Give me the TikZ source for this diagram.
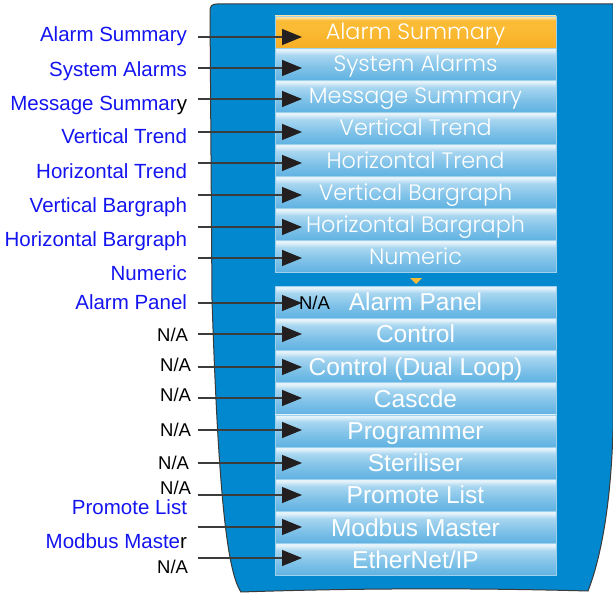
\documentclass[tikz,border=0pt]{standalone}
\usepackage{fontspec}
\setmainfont{Liberation Sans}
\IfFontExistsTF{Poppins Light}{\newfontfamily\screenfont{Poppins Light}}{\newfontfamily\screenfont{Poppins}}
\usetikzlibrary{arrows.meta}

\definecolor{panelblue}{HTML}{0288CE}
\definecolor{panelline}{HTML}{3A3A3A}
\definecolor{rowtop}{HTML}{E4F2FA}
\definecolor{rowlight}{HTML}{A8D6F0}
\definecolor{rowdark}{HTML}{5FB2E2}
\definecolor{rowline}{HTML}{9ED1EE}
\definecolor{alarmtop}{HTML}{FDE2A2}
\definecolor{alarmmid}{HTML}{FBBB35}
\definecolor{alarmdark}{HTML}{F7AE24}
\definecolor{labelblue}{HTML}{1414F0}
\definecolor{leadgray}{HTML}{3C3C3C}
\definecolor{tipblack}{HTML}{231F20}

% row gradients (box maps onto 25bp..75bp)
\pgfdeclareverticalshading{menurow}{100bp}{
    color(0bp)=(rowdark); color(25bp)=(rowdark); color(45bp)=(rowdark!55!rowlight);
    color(64bp)=(rowlight); color(72bp)=(rowtop); color(100bp)=(rowtop)}
\pgfdeclareverticalshading{alarmrow}{100bp}{
    color(0bp)=(alarmdark); color(25bp)=(alarmdark); color(55bp)=(alarmmid);
    color(68bp)=(alarmmid); color(73bp)=(alarmtop); color(100bp)=(alarmtop)}

\tikzset{
    menu row/.style={
        anchor=north west,
        minimum width=281pt,
        minimum height=32pt,
        inner sep=0,
        outer sep=0,
        text=white,
        draw=rowline,
        line width=0.5pt,
        shading=menurow,
    },
    upper row/.style={
        menu row,
        text height=17pt,
        text depth=1.8pt,
        font=\screenfont\fontsize{22.3}{25}\selectfont,
    },
    lower row/.style={
        menu row,
        text height=18.5pt,
        text depth=1pt,
        font=\fontsize{24.5}{28}\selectfont,
    },
    side label/.style={
        anchor=mid east,
        inner sep=0,
        outer sep=0,
        text=labelblue,
        font=\fontsize{20.5}{24}\selectfont,
    },
    na label/.style={
        side label,
        text=black,
        font=\fontsize{18.5}{22}\selectfont,
    },
    pointer/.style={
        draw=leadgray,
        line width=1.2pt,
        -{Triangle[length=20pt,width=16pt,color=tipblack]},
    },
}

\begin{document}
\begin{tikzpicture}[x=1pt,y=-1pt]
    \useasboundingbox (0,0) rectangle (613,594);

    % instrument body
    \draw[fill=panelblue, draw=panelline, line width=1pt]
        (217,4) -- (613,4) -- (613,430)
        .. controls (611,500) and (602,555) .. (588,591)
        .. controls (480,588) and (360,588) .. (241,592)
        .. controls (226,570) and (218,480) .. (212,300)
        -- (210,11) .. controls (210,6) and (212,4) .. (217,4) -- cycle;

    % upper menu page
    \node[upper row, shading=alarmrow] (up1) at (275,16) {Alarm Summary};
    \foreach \a [count=\n from 2] in {
        System Alarms,
        Message Summary,
        Vertical Trend,
        Horizontal Trend,
        Vertical Bargraph,
        Horizontal Bargraph,
        Numeric
    } {
        \node[upper row] (up\n) at (275,{16+(\n-1)*32.1}) {\a};
    }

    % more-items marker
    \fill[alarmmid] (410,278) -- (422,278) -- (416,284) -- cycle;

    % lower menu page
    \foreach \a [count=\n] in {
        Alarm Panel,
        Control,
        {Control (Dual Loop)},
        Cascde,
        Programmer,
        Steriliser,
        Promote List,
        Modbus Master,
        EtherNet/IP
    } {
        \node[lower row] (low\n) at (275,{286+(\n-1)*32.2}) {\a};
    }

    % pointers into the menu
    \foreach \y [count=\n] in {37,68,99,132,163,195,227,258,
                               303,334,367,398,430,463,495,527,558} {
        \coordinate (tip\n) at (302,\y);
        \coordinate (tail\n) at (198,\y);
        \draw[pointer] (tail\n) -- (tip\n);
    }

    % function names
    \foreach \a/\y [count=\n] in {
        Alarm Summary/39,
        System Alarms/74,
        Message Summar\textcolor{black}{y}/108,
        Vertical Trend/141,
        Horizontal Trend/176,
        Vertical Bargraph/210,
        Horizontal Bargraph/244,
        Numeric/278,
        Alarm Panel/307,
        Promote List/512,
        Modbus Maste\textcolor{black}{r}/546
    } {
        \node[side label] (name\n) at (187,\y) {\a};
    }

    % not available
    \foreach \x/\y [count=\n] in {188/339, 191/369, 191/399, 191/434, 189/467, 191/492, 188/571} {
        \node[na label] (na\n) at (\x,\y) {N/A};
    }
    \node[na label, anchor=mid west] (napanel) at (299,307) {N/A};

\end{tikzpicture}
\end{document}
